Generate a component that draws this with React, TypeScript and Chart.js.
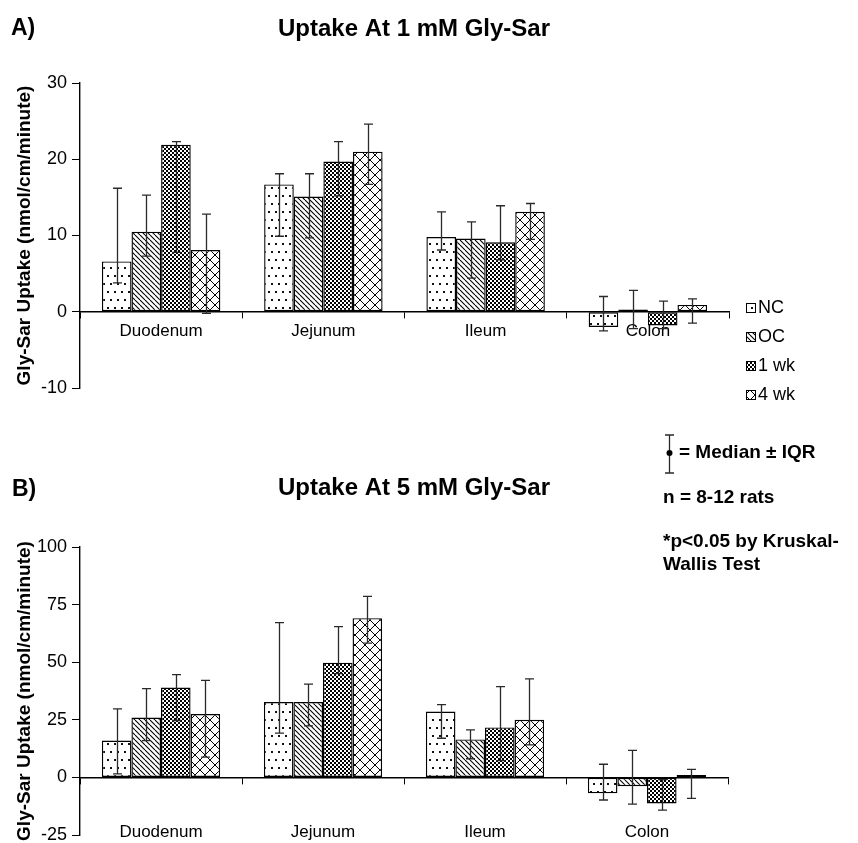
import React, { useEffect, useRef } from 'react';
import { Chart, registerables } from 'chart.js';

Chart.register(...registerables);

const FONT = '"Liberation Sans", Arial, Helvetica, sans-serif';

const categories = ['Duodenum', 'Jejunum', 'Ileum', 'Colon'];
const groups = ['NC', 'OC', '1 wk', '4 wk'];

// Panel A: uptake at 1 mM Gly-Sar (median, lower and upper IQR bounds)
const a_nc = [6.6, 16.7, 9.8, -2.0];
const a_nc_lo = [3.8, 9.9, 8.1, -2.5];
const a_nc_hi = [16.2, 18.1, 13.1, 2.0];
const a_oc = [10.5, 15.1, 9.6, 0.3];
const a_oc_lo = [7.3, 9.7, 4.4, -2.2];
const a_oc_hi = [15.3, 18.1, 11.8, 2.8];
const a_1wk = [21.9, 19.7, 9.1, -1.8];
const a_1wk_lo = [7.8, 15.2, 6.8, -2.2];
const a_1wk_hi = [22.3, 22.3, 13.9, 1.4];
const a_4wk = [8.1, 21.0, 13.1, 0.9];
const a_4wk_lo = [-0.2, 16.7, 9.5, -1.5];
const a_4wk_hi = [12.8, 24.6, 14.2, 1.7];

// Panel B: uptake at 5 mM Gly-Sar
const b_nc = [16.0, 32.7, 28.6, -6.9];
const b_nc_lo = [1.5, 19.2, 17.0, -9.8];
const b_nc_hi = [29.7, 67.2, 31.6, 5.7];
const b_oc = [26.0, 32.7, 16.5, -3.8];
const b_oc_lo = [16.0, 22.4, 8.1, -11.6];
const b_oc_hi = [38.5, 40.5, 20.6, 11.7];
const b_1wk = [39.0, 49.8, 21.7, -11.3];
const b_1wk_lo = [24.7, 45.0, 7.3, -14.2];
const b_1wk_hi = [44.6, 65.4, 39.4, -1.0];
const b_4wk = [27.5, 69.1, 25.0, 1.0];
const b_4wk_lo = [8.8, 58.3, 14.1, -9.1];
const b_4wk_hi = [42.1, 78.6, 42.8, 3.5];

const notes = ['n = 8-12 rats', '*p<0.05 by Kruskal-', 'Wallis Test'];

type Kind = 'dots' | 'diag' | 'checker' | 'cross';
const kinds: Kind[] = ['dots', 'diag', 'checker', 'cross'];

function makePattern(kind: Kind): CanvasPattern | string {
  const c = document.createElement('canvas');
  const x = c.getContext('2d');
  if (!x) return '#fff';
  if (kind === 'dots') {
    c.width = 14; c.height = 16;
    x.fillStyle = '#fff'; x.fillRect(0, 0, 14, 16);
    x.fillStyle = '#111';
    x.fillRect(2, 3, 2, 2); x.fillRect(9, 3, 2, 2);
    x.fillRect(5, 11, 2, 2); x.fillRect(12, 11, 2, 2);
  } else if (kind === 'diag') {
    const s = 5;
    c.width = s; c.height = s;
    x.fillStyle = '#fff'; x.fillRect(0, 0, s, s);
    x.strokeStyle = '#000'; x.lineWidth = 1.1;
    for (const k of [-s, 0, s]) {
      x.beginPath(); x.moveTo(k, 0); x.lineTo(k + s, s); x.stroke();
    }
  } else if (kind === 'checker') {
    c.width = 4; c.height = 4;
    x.fillStyle = '#fff'; x.fillRect(0, 0, 4, 4);
    x.fillStyle = '#000';
    x.fillRect(0, 0, 2, 2); x.fillRect(2, 2, 2, 2);
  } else {
    const s = 10;
    c.width = s; c.height = s;
    x.fillStyle = '#fff'; x.fillRect(0, 0, s, s);
    x.strokeStyle = '#000'; x.lineWidth = 1;
    x.beginPath(); x.moveTo(0, 0); x.lineTo(s, s); x.stroke();
    x.beginPath(); x.moveTo(s, 0); x.lineTo(0, s); x.stroke();
  }
  return x.createPattern(c, 'repeat') || '#fff';
}

interface PanelCfg {
  values: number[][];
  lows: number[][];
  highs: number[][];
  min: number;
  max: number;
  step: number;
  padding: { left: number; right: number; top: number; bottom: number };
  labelPad: number;
  draw: (ctx: CanvasRenderingContext2D, patterns: (CanvasPattern | string)[]) => void;
}

const errorBars = {
  id: 'errorBars',
  afterDatasetsDraw(chart: any) {
    const ctx = chart.ctx as CanvasRenderingContext2D;
    const y = chart.scales.y;
    ctx.save();
    ctx.strokeStyle = '#2a2a2a';
    ctx.lineWidth = 1.3;
    chart.data.datasets.forEach((ds: any, i: number) => {
      const meta = chart.getDatasetMeta(i);
      meta.data.forEach((el: any, j: number) => {
        const yl = y.getPixelForValue(ds.lo[j]);
        const yh = y.getPixelForValue(ds.hi[j]);
        const cx = Math.round(el.x) + 0.5;
        ctx.beginPath();
        ctx.moveTo(cx, yl); ctx.lineTo(cx, yh);
        ctx.moveTo(cx - 4.5, yh); ctx.lineTo(cx + 4.5, yh);
        ctx.moveTo(cx - 4.5, yl); ctx.lineTo(cx + 4.5, yl);
        ctx.stroke();
      });
    });
    ctx.restore();
  },
};

function makeChart(canvas: HTMLCanvasElement, cfg: PanelCfg): Chart {
  const patterns = kinds.map(makePattern);
  const extras = {
    id: 'extras',
    afterDraw(chart: any) {
      const ctx = chart.ctx as CanvasRenderingContext2D;
      ctx.save();
      cfg.draw(ctx, patterns);
      ctx.restore();
    },
  };
  return new Chart(canvas, {
    type: 'bar',
    data: {
      labels: categories,
      datasets: groups.map((g, i) => ({
        label: g,
        data: cfg.values[i],
        lo: cfg.lows[i],
        hi: cfg.highs[i],
        backgroundColor: patterns[i],
        borderColor: '#000',
        borderWidth: 1.4,
        borderSkipped: false,
        categoryPercentage: 0.73,
        barPercentage: 1.0,
      })) as any,
    },
    options: {
      responsive: false,
      animation: false,
      events: [],
      layout: { padding: cfg.padding },
      plugins: { legend: { display: false }, tooltip: { enabled: false }, title: { display: false } },
      scales: {
        x: {
          position: { y: 0 } as any,
          offset: true,
          grid: { display: true, drawOnChartArea: false, drawTicks: true, tickLength: 6, color: '#000', offset: true },
          border: { display: true, color: '#000', width: 1.4 },
          ticks: { color: '#000', padding: cfg.labelPad, font: { family: FONT, size: 17 }, maxRotation: 0, autoSkip: false },
        },
        y: {
          min: cfg.min,
          max: cfg.max,
          afterFit: (s: any) => { s.width = 80; },
          grid: { display: true, drawOnChartArea: false, drawTicks: true, tickLength: 8, color: '#000' },
          border: { display: true, color: '#000', width: 1.4 },
          ticks: { stepSize: cfg.step, color: '#000', padding: 5, font: { family: FONT, size: 18 } },
          title: {
            display: true,
            text: 'Gly-Sar Uptake (nmol/cm/minute)',
            color: '#000',
            font: { family: FONT, size: 19, weight: 'bold' },
            padding: { top: 13, bottom: 0 },
          },
        },
      },
    },
    plugins: [errorBars, extras],
  });
}

function text(ctx: CanvasRenderingContext2D, s: string, x: number, y: number, size: number, bold: boolean, align: CanvasTextAlign = 'left') {
  ctx.fillStyle = '#000';
  ctx.font = `${bold ? 'bold ' : ''}${size}px ${FONT}`;
  ctx.textAlign = align;
  ctx.textBaseline = 'middle';
  ctx.fillText(s, x, y);
}

function drawA(ctx: CanvasRenderingContext2D, patterns: (CanvasPattern | string)[]) {
  text(ctx, 'A)', 11, 29, 23, true);
  text(ctx, 'Uptake At 1 mM Gly-Sar', 414, 29, 24, true, 'center');
  const ys = [308, 337, 366, 395];
  groups.forEach((g, i) => {
    ctx.fillStyle = patterns[i] as any;
    ctx.fillRect(746, ys[i] - 5, 10, 10);
    ctx.strokeStyle = '#000';
    ctx.lineWidth = 1;
    ctx.strokeRect(746.5, ys[i] - 4.5, 9, 9);
    text(ctx, g, 758, ys[i], 18, false);
  });
}

function drawB(ctx: CanvasRenderingContext2D) {
  text(ctx, 'B)', 12, 70, 23, true);
  text(ctx, 'Uptake At 5 mM Gly-Sar', 414, 68, 24, true, 'center');
  // median ± IQR key symbol
  ctx.strokeStyle = '#2a2a2a';
  ctx.lineWidth = 1.3;
  ctx.beginPath();
  ctx.moveTo(669.5, 15); ctx.lineTo(669.5, 53);
  ctx.moveTo(665, 15); ctx.lineTo(674, 15);
  ctx.moveTo(665, 53); ctx.lineTo(674, 53);
  ctx.stroke();
  ctx.fillStyle = '#000';
  ctx.beginPath(); ctx.arc(669.5, 33, 3, 0, Math.PI * 2); ctx.fill();
  text(ctx, '= Median \u00b1 IQR', 679, 33, 19, true);
  text(ctx, notes[0], 663, 78, 19, true);
  text(ctx, notes[1], 663, 122, 19, true);
  text(ctx, notes[2], 663, 145, 19, true);
}

export default function App() {
  const refA = useRef<HTMLCanvasElement>(null);
  const refB = useRef<HTMLCanvasElement>(null);

  useEffect(() => {
    if (!refA.current || !refB.current) return;
    const chartA = makeChart(refA.current, {
      values: [a_nc, a_oc, a_1wk, a_4wk],
      lows: [a_nc_lo, a_oc_lo, a_1wk_lo, a_4wk_lo],
      highs: [a_nc_hi, a_oc_hi, a_1wk_hi, a_4wk_hi],
      min: -10, max: 30, step: 10,
      padding: { left: 0, right: 129, top: 83, bottom: 32 },
      labelPad: 3,
      draw: drawA,
    });
    const chartB = makeChart(refB.current, {
      values: [b_nc, b_oc, b_1wk, b_4wk],
      lows: [b_nc_lo, b_oc_lo, b_1wk_lo, b_4wk_lo],
      highs: [b_nc_hi, b_oc_hi, b_1wk_hi, b_4wk_hi],
      min: -25, max: 100, step: 25,
      padding: { left: 0, right: 130, top: 127, bottom: 25 },
      labelPad: 39,
      draw: (ctx) => drawB(ctx),
    });
    return () => { chartA.destroy(); chartB.destroy(); };
  }, []);

  return (
    <div style={{ position: 'absolute', left: 0, top: 0, width: 858, height: 843, background: '#fff', overflow: 'hidden' }}>
      <canvas ref={refA} width={858} height={420} style={{ position: 'absolute', left: 0, top: 0 }} />
      <canvas ref={refB} width={858} height={440} style={{ position: 'absolute', left: 0, top: 420 }} />
    </div>
  );
}
